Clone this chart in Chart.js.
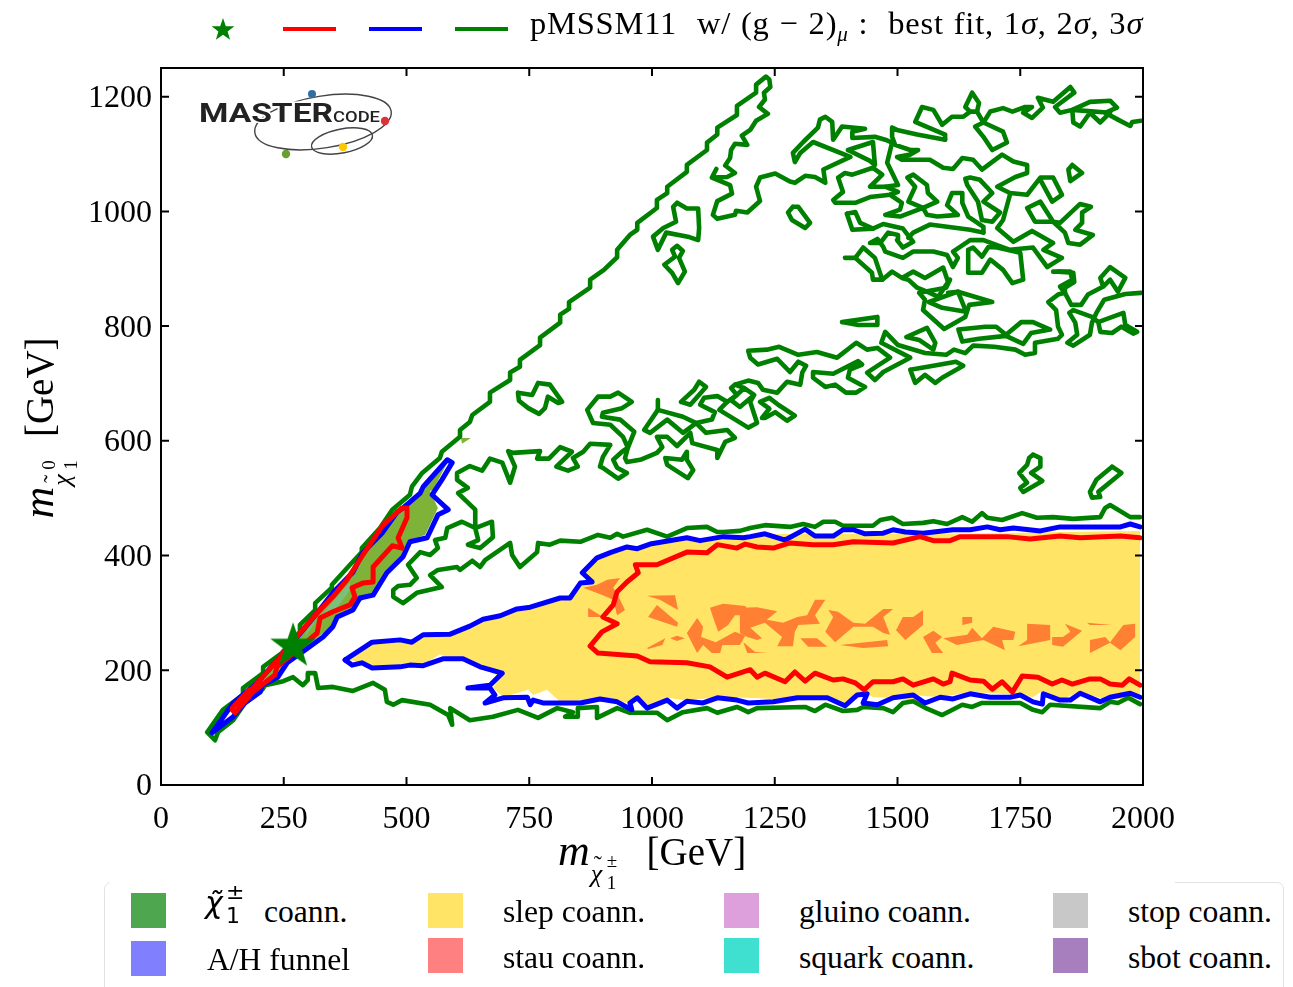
<!DOCTYPE html>
<html>
<head>
<meta charset="utf-8">
<title>pMSSM11 chargino neutralino plane</title>
<script src="https://cdn.jsdelivr.net/npm/chart.js@4/dist/chart.umd.min.js"></script>
<style>
html, body { margin: 0; padding: 0; background: #fff; overflow: hidden; }
#page { position: relative; width: 1293px; height: 987px; overflow: hidden; font-family: "Liberation Serif", serif; color: #000; }
#myChart { position: absolute; left: 0; top: 0; }
.abs { position: absolute; white-space: nowrap; }
.swatch { position: absolute; width: 35px; height: 35px; }
.leg { position: absolute; white-space: nowrap; font-size: 31.6px; line-height: 36px; }
.keyline { position: absolute; top: 27px; width: 53px; height: 4px; }
.stack { display: inline-block; position: relative; }
.stack span { position: absolute; left: 0; }
</style>
</head>
<body>
<div id="page">
  <canvas id="myChart" width="1293" height="987"></canvas>

  <svg class="abs" style="left:205px;top:12px" width="36" height="36" viewBox="-18 -18 36 36">
    <polygon fill="#008000" points="0,-12 2.8,-3.8 11.4,-3.7 4.6,1.4 7.1,9.7 0,4.8 -7.1,9.7 -4.6,1.4 -11.4,-3.7 -2.8,-3.8"/>
  </svg>
  <div class="keyline" style="left:283px;background:#ff0000"></div>
  <div class="keyline" style="left:369px;background:#0000ff"></div>
  <div class="keyline" style="left:455px;background:#008000"></div>
  <div class="abs" style="left:530px;top:5px;font-size:32.5px;line-height:36px;letter-spacing:0.8px;word-spacing:1px">pMSSM11&nbsp; w/ (g − 2)<i style="font-size:21px;position:relative;top:7px">μ</i> :&nbsp; best fit, 1<i>σ</i>, 2<i>σ</i>, 3<i>σ</i></div>

  <svg class="abs" style="left:190px;top:80px" width="210" height="85" viewBox="190 80 210 85">
    <ellipse cx="323" cy="122" rx="69" ry="26" fill="none" stroke="#444" stroke-width="1.4" transform="rotate(-9 323 122)"/>
    <ellipse cx="342" cy="141" rx="31" ry="12" fill="none" stroke="#444" stroke-width="1.4" transform="rotate(-11 342 141)"/>
    <text x="199" y="122" font-family="Roboto" font-weight="700" font-size="25" textLength="134" lengthAdjust="spacingAndGlyphs" fill="#222" stroke="#fff" stroke-width="3" paint-order="stroke">MASTER</text>
    <text x="333" y="122" font-family="Roboto" font-weight="500" font-size="14" textLength="47" lengthAdjust="spacingAndGlyphs" fill="#222">CODE</text>
    <circle cx="312" cy="94" r="4" fill="#2f6ea5"/>
    <circle cx="385" cy="121" r="4.2" fill="#d9343a"/>
    <circle cx="343" cy="147" r="4.2" fill="#fdc800"/>
    <circle cx="286" cy="154" r="4.2" fill="#6a9e33"/>
  </svg>

  <div class="abs" style="left:-111px;top:405px;width:300px;height:46px;line-height:46px;text-align:center;font-size:39px;transform:rotate(-90deg)"><i style="font-size:44px">m</i><span class="stack" style="width:40px;height:20px"><span style="top:14px;font-size:26px;line-height:30px;left:1px"><i>χ</i></span><span style="top:4px;font-size:24px;line-height:30px;left:4px">˜</span><span style="top:28px;font-size:19px;line-height:20px;left:17px">1</span><span style="top:6px;font-size:19px;line-height:20px;left:17px">0</span></span>&nbsp;[GeV]</div>

  <div class="abs" style="left:104px;top:882px;width:1180px;height:120px;box-sizing:border-box;border:1.5px solid #e2e2e2;border-radius:7px;background:#fff"></div>
  <div class="abs" style="left:110px;top:878px;width:1065px;height:10px;background:#fff"></div>

  <div class="abs" style="left:558px;top:828px;font-size:39px;line-height:46px"><i style="font-size:44px">m</i><span class="stack" style="width:47px;height:20px"><span style="top:14px;font-size:26px;line-height:30px;left:1px"><i>χ</i></span><span style="top:4px;font-size:24px;line-height:30px;left:4px">˜</span><span style="top:28px;font-size:19px;line-height:20px;left:17px">1</span><span style="top:6px;font-size:19px;line-height:20px;left:17px">±</span></span>&nbsp;[GeV]</div>

  <div class="swatch" style="left:131px;top:893px;background:#4ea64e"></div>
  <div class="swatch" style="left:131px;top:941px;background:#8080ff"></div>
  <div class="swatch" style="left:428px;top:893px;background:#ffe466"></div>
  <div class="swatch" style="left:428px;top:938px;background:#ff8080"></div>
  <div class="swatch" style="left:724px;top:893px;background:#dda0dd"></div>
  <div class="swatch" style="left:724px;top:938px;background:#40e0d0"></div>
  <div class="swatch" style="left:1053px;top:893px;background:#c8c8c8"></div>
  <div class="swatch" style="left:1053px;top:938px;background:#a77fbf"></div>

  <div class="leg" style="left:205px;top:894px"><span class="stack" style="width:59px;height:20px;vertical-align:baseline"><span style="top:-17px;font-family:'DejaVu Sans';font-style:italic;font-size:30px;line-height:36px">χ̃</span><span style="top:2px;left:21px;font-family:'DejaVu Sans';font-size:22px;line-height:24px">1</span><span style="top:-22px;left:21px;font-family:'DejaVu Sans';font-size:22px;line-height:24px">±</span></span>coann.</div>
  <div class="leg" style="left:207px;top:942px">A/H funnel</div>
  <div class="leg" style="left:503px;top:894px">slep coann.</div>
  <div class="leg" style="left:503px;top:940px">stau coann.</div>
  <div class="leg" style="left:799px;top:894px">gluino coann.</div>
  <div class="leg" style="left:799px;top:940px">squark coann.</div>
  <div class="leg" style="left:1128px;top:894px">stop coann.</div>
  <div class="leg" style="left:1128px;top:940px">sbot coann.</div>
</div>

<script>
var xTicks = [0, 250, 500, 750, 1000, 1250, 1500, 1750, 2000];
var yTicks = [0, 200, 400, 600, 800, 1000, 1200];
var bestFit = [269, 242];

// all regions and contours are flat lists: x, y, x, y ...
var slepRegion = [385,218, 430,248, 491,256, 511,251, 534,262, 589,265, 629,276, 656,288, 691,293, 731,309, 752,310, 813,326, 833,326, 854,352, 874,354, 860,370, 888,392, 915,405, 949,415, 970,412, 996,419, 1057,427, 1098,431, 1180,436, 1302,438, 1505,438, 1709,439, 1831,441, 1994,443, 1994,153, 1927,148, 1872,162, 1831,148, 1791,162, 1776,153, 1750,157, 1648,162, 1587,153, 1532,157, 1550,145, 1485,152, 1450,153, 1434,160, 1397,140, 1349,153, 1247,150, 1194,152, 1133,152, 1063,148, 1031,152, 990,134, 970,152, 955,143, 929,145, 888,148, 813,145, 786,166, 758,157, 748,166, 697,153, 676,169, 691,188, 636,213, 589,221, 568,228, 542,214, 487,206, 430,206, 409,213];

var stauRegions = [
  [860,344, 888,349, 909,358, 935,361, 921,344, 935,323, 945,305, 929,296, 921,323, 900,331],
  [870,309, 900,293, 870,293],
  [990,330, 1047,331, 1053,305, 1016,323],
  [1010,314, 1053,283, 1051,276, 992,293],
  [990,239, 1027,256, 1021,244, 992,237],
  [1037,256, 1051,260, 1067,256, 1051,251],
  [1118,309, 1145,316, 1190,312, 1200,296, 1169,296, 1155,279, 1135,267, 1126,288],
  [1071,265, 1092,291, 1104,276, 1100,258, 1130,249, 1169,267, 1190,260, 1179,244, 1143,244, 1139,230, 1122,230, 1104,244, 1092,230],
  [1179,309, 1214,310, 1255,303, 1234,288, 1267,283, 1296,293, 1316,296, 1332,323, 1353,323, 1332,296, 1342,281, 1298,279, 1291,267, 1287,242, 1255,242, 1265,258, 1230,283, 1200,274, 1224,256, 1214,253, 1194,258, 1179,265],
  [1359,305, 1379,302, 1410,283, 1434,281, 1471,307, 1491,307, 1471,293, 1485,262, 1471,265, 1450,276, 1410,276, 1373,249, 1353,267, 1369,293],
  [1302,256, 1336,256, 1357,241, 1318,241],
  [1383,244, 1479,253, 1481,242, 1430,239],
  [1511,293, 1532,293, 1552,305, 1552,279, 1516,253, 1497,270],
  [1632,293, 1652,293, 1652,283, 1632,279],
  [1552,258, 1573,269, 1591,258, 1577,248, 1593,230, 1570,230],
  [1593,256, 1642,262, 1652,274, 1672,256, 1695,276, 1740,267, 1736,253, 1713,253, 1719,235, 1675,253, 1621,244],
  [1764,281, 1811,279, 1811,253, 1746,242, 1764,253],
  [1841,281, 1876,269, 1837,241, 1815,244, 1815,258, 1837,258, 1852,267],
  [1886,283, 1937,279, 1892,279],
  [1892,253, 1923,258, 1933,249, 1960,279, 1984,281, 1984,258, 1954,235, 1933,248, 1892,230],
  [1186,249, 1210,232, 1236,230, 1194,230]
];

var charginoRegions = [
  [145,127, 196,180, 249,232, 318,302, 350,337, 391,373, 411,405, 450,439, 481,476, 507,497, 544,520, 564,483, 538,436, 507,427, 493,401, 460,371, 432,337, 391,309, 359,296, 344,274, 293,239, 238,192, 198,166, 171,145, 147,122],
  [538,523, 583,562, 554,514, 538,511],
  [611,605, 631,605, 613,595]
];
var mixedRegion = [297,270, 330,300, 359,328, 385,354, 385,340, 365,317, 350,302, 318,288, 293,258];

var redDiagonal = [145,131, 151,126, 187,162, 232,192, 236,206, 277,235, 318,265, 324,291, 350,302, 385,314, 395,328, 389,344, 411,352, 432,354, 432,380, 471,417, 491,413, 483,431, 501,466, 501,483, 491,483, 452,453, 411,401, 379,358, 350,328, 318,300, 283,265, 242,223, 187,169, 177,164, 145,134];
var redBand = [1994,431, 1954,434, 1872,431, 1831,434, 1770,429, 1723,433, 1628,433, 1607,426, 1573,426, 1546,433, 1491,422, 1410,424, 1369,419, 1328,419, 1281,422, 1247,413, 1214,415, 1190,420, 1173,413, 1133,419, 1112,405, 1071,406, 1010,384, 966,384, 972,370, 949,354, 929,337, 921,314, 900,293, 929,281, 898,267, 874,242, 890,230, 970,225, 996,215, 1071,213, 1118,206, 1153,188, 1200,201, 1214,188, 1230,195, 1271,180, 1291,197, 1312,181, 1332,195, 1369,183, 1389,185, 1414,178, 1432,166, 1450,180, 1491,180, 1511,185, 1532,174, 1573,185, 1593,176, 1607,180, 1611,195, 1648,183, 1675,181, 1693,167, 1713,180, 1734,162, 1754,190, 1786,188, 1815,176, 1835,183, 1856,176, 1892,185, 1913,185, 1933,176, 1958,174, 1972,185, 1994,174];

var blueDiagonal = [104,91, 147,119, 171,143, 202,162, 206,174, 238,188, 257,213, 293,235, 330,258, 350,276, 359,293, 391,305, 405,326, 432,331, 460,370, 493,398, 507,424, 542,431, 564,471, 585,480, 552,506, 572,532, 593,562, 583,567, 534,520, 528,509, 493,483, 481,476, 450,439, 411,405, 391,371, 350,335, 318,300, 289,270, 249,230, 196,178, 147,143, 104,91];
var blueBandTop = [375,218, 430,249, 487,253, 511,249, 534,262, 589,263, 629,277, 656,289, 691,295, 725,307, 752,310, 813,326, 833,326, 854,352, 878,354, 858,370, 888,396, 915,405, 949,415, 970,412, 996,420, 1071,431, 1098,426, 1145,433, 1186,431, 1200,433, 1230,438, 1271,427, 1312,446, 1332,434, 1369,434, 1389,445, 1410,445, 1434,438, 1471,439, 1491,445, 1516,441, 1552,439, 1613,445, 1648,445, 1683,450, 1709,445, 1736,448, 1791,443, 1831,450, 1954,450, 1974,455, 1994,450];
var blueBandBottom = [1994,153, 1974,160, 1933,153, 1913,145, 1872,160, 1852,148, 1831,148, 1797,159, 1795,141, 1776,145, 1750,157, 1729,153, 1689,153, 1648,159, 1613,150, 1587,153, 1556,143, 1532,157, 1491,152, 1459,140, 1430,143, 1438,159, 1418,157, 1393,138, 1357,152, 1296,152, 1247,145, 1196,143, 1173,148, 1133,152, 1104,143, 1071,146, 1051,134, 1031,148, 990,134, 970,152, 955,143, 959,131, 929,145, 894,150, 854,143, 778,143, 758,148, 752,140, 746,153, 697,152, 660,143, 680,157, 670,169, 625,169, 670,174, 695,195, 650,206, 615,220, 574,220, 534,208, 507,209, 487,206, 430,204, 409,213, 389,209, 375,218];

var greenLowerAndDiagonal = [1994,141, 1970,152, 1949,143, 1933,145, 1913,134, 1811,140, 1795,127, 1776,131, 1750,143, 1672,143, 1652,136, 1632,140, 1591,122, 1560,133, 1532,146, 1511,143, 1491,127, 1471,134, 1430,136, 1418,131, 1389,129, 1353,140, 1332,129, 1312,136, 1214,134, 1196,127, 1179,134, 1173,136, 1133,126, 1112,134, 1063,127, 1031,113, 1010,126, 955,126, 929,134, 888,117, 888,136, 849,134, 849,119, 823,119, 839,127, 807,134, 768,117, 727,131, 676,119, 629,113, 589,134, 593,105, 585,122, 548,140, 491,148, 473,140, 460,145, 456,166, 432,178, 391,164, 350,171, 320,169, 314,195, 299,195, 299,183, 289,174, 269,188, 249,181, 212,174, 206,166, 171,143, 147,113, 116,92, 110,78, 94,92, 126,131, 167,157, 167,169, 208,195, 208,206, 246,230, 283,267, 283,279, 314,305, 314,317, 348,344, 348,349, 385,384, 409,406, 409,413, 446,448, 471,480, 507,506, 511,520, 532,544, 568,570, 572,581, 609,607, 609,619, 629,633, 634,645, 670,668, 670,684, 711,706, 711,719, 731,729, 731,741, 772,767, 772,780, 813,806, 813,820, 831,830, 831,842, 874,867, 874,881, 902,898, 929,920, 929,933, 955,959, 970,968, 970,980, 1010,1006, 1010,1020, 1031,1032, 1031,1043, 1071,1069, 1071,1081, 1112,1107, 1112,1120, 1133,1134, 1133,1146, 1173,1168, 1173,1184, 1212,1207, 1212,1221, 1232,1235, 1239,1230, 1241,1217, 1228,1207, 1230,1195, 1218,1182, 1236,1170, 1212,1158, 1200,1142, 1183,1132, 1194,1116, 1169,1118, 1161,1107, 1159,1093, 1149,1080, 1169,1067, 1153,1060, 1122,1059, 1131,1074, 1122,1059, 1159,1046, 1163,1031, 1133,1018, 1124,994, 1133,987, 1169,994, 1171,1001, 1194,998, 1220,1018, 1212,1043, 1220,1059, 1251,1066, 1281,1052, 1291,1050, 1312,1062, 1332,1060, 1353,1050, 1349,1073, 1404,1095, 1328,1121, 1302,1102, 1291,1086, 1287,1102, 1308,1121, 1338,1146, 1342,1160, 1353,1165, 1367,1156, 1369,1125, 1387,1148, 1434,1144, 1408,1139, 1408,1128, 1454,1130, 1475,1125, 1489,1120, 1479,1085, 1501,1046, 1475,1043];

var greenUpperBand = [1994,467, 1974,467, 1933,488, 1923,483, 1913,467, 1858,464, 1817,467, 1784,466, 1754,474, 1713,462, 1683,466, 1672,474, 1652,459, 1632,467, 1601,455, 1573,460, 1552,457, 1511,455, 1489,466, 1465,462, 1450,452, 1389,452, 1373,459, 1349,459, 1332,450, 1308,455, 1281,450, 1230,453, 1200,448, 1179,443, 1145,441, 1133,441, 1112,450, 1071,448, 1031,433, 990,445, 941,433, 929,438, 915,431, 890,436, 854,424, 813,426, 792,419, 768,422, 766,406, 731,380, 715,401, 711,422, 660,392, 650,380, 634,391, 609,375, 603,380, 564,375, 548,366, 572,345, 521,335, 493,317, 473,328, 473,340, 483,347, 507,349, 521,361, 503,384, 528,406, 548,401, 564,413, 558,427, 579,431, 583,448, 613,459, 640,448, 646,427, 625,419, 650,413, 676,432, 674,459, 640,448, 640,480, 605,509, 625,518, 603,532, 603,544, 629,556, 654,548, 670,569, 695,562, 711,527, 721,555, 707,582, 717,579, 772,582, 766,569, 790,569, 813,589, 837,581, 805,555, 829,548, 849,555, 839,570, 860,581, 874,595, 915,593, 900,572, 894,555, 900,553, 931,534, 949,544, 929,553, 921,567, 939,581, 951,588, 941,607, 915,628, 880,631, 868,654, 890,677, 915,677, 931,684, 959,668, 939,657, 900,649, 898,642, 935,637, 964,616, 951,588, 945,570, 949,563, 976,567, 1010,579, 1021,589, 1010,607, 1031,607, 1051,591, 1078,614, 1082,596, 1133,584, 1133,570, 1149,598, 1169,605, 1153,619, 1110,614, 1090,631, 1063,642, 1012,654, 1012,671];

var greenWiggles = [
  [1012,654, 984,619, 996,614, 1031,637, 1063,614, 1090,631, 1122,637, 1128,650, 1098,663, 1106,675, 1133,678, 1153,668, 1137,654, 1196,623, 1214,631, 1200,668, 1208,680, 1188,692, 1161,671, 1179,659, 1208,680],
  [1188,692, 1169,698, 1196,705, 1216,701, 1226,689, 1255,684, 1275,703, 1302,698, 1306,719, 1314,731, 1298,738, 1281,720, 1255,743, 1216,733, 1200,745, 1196,757, 1234,759, 1259,764, 1298,750, 1336,755, 1377,745, 1416,771, 1438,759, 1459,762, 1485,745, 1438,719, 1454,706, 1471,720, 1526,745, 1467,771, 1475,790, 1501,767, 1556,753, 1599,750, 1615,759, 1638,753, 1654,766, 1697,764, 1740,759, 1760,750, 1780,753, 1780,771, 1827,778, 1835,785, 1827,799, 1823,828, 1807,842, 1827,855, 1841,858, 1841,867, 1860,877, 1858,893, 1827,895],
  [1169,698, 1161,692, 1173,680, 1153,668],
  [1059,668, 1086,689, 1096,703, 1110,694, 1078,663, 1059,668],
  [1220,668, 1239,675, 1257,663, 1291,644, 1275,635, 1251,650, 1230,640, 1224,640, 1239,656, 1220,668],
  [1328,720, 1369,717, 1420,739, 1428,733, 1403,724, 1399,710, 1434,694, 1416,684, 1395,684, 1373,698, 1353,694, 1328,710, 1328,720],
  [1526,724, 1573,731, 1619,738, 1634,731, 1591,710, 1577,701, 1556,715, 1536,701, 1526,724],
  [1387,807, 1459,816, 1459,802, 1420,802, 1387,807],
  [1518,781, 1560,797, 1577,771, 1573,759, 1544,776, 1518,781],
  [1624,794, 1679,799, 1701,799, 1721,785, 1752,807, 1776,807, 1811,794, 1772,788, 1756,769, 1721,783, 1666,778, 1632,773, 1624,794],
  [1776,576, 1791,570, 1791,555, 1772,544, 1795,530, 1756,511, 1750,518, 1764,527, 1748,544, 1764,558, 1768,570, 1776,576],
  [1937,555, 1956,544, 1909,511, 1913,502, 1896,501, 1892,511, 1905,532, 1937,555],
  [727,684, 756,680, 768,701, 792,698, 817,668, 809,666, 788,677, 782,657, 770,647, 748,657, 729,670, 727,684],
  [1027,570, 1031,558, 1073,535, 1084,549, 1071,567, 1071,581, 1061,567, 1027,570],
  [1051,1015, 1071,1005, 1094,1005, 1096,971, 1094,950, 1073,956, 1029,963, 1012,933, 1002,956, 1023,971, 1049,982, 1043,1008, 1051,1015],
  [1051,940, 1063,931, 1055,919, 1067,895, 1053,875, 1041,893, 1025,907, 1047,921, 1041,933, 1051,940],
  [1399,1107, 1450,1121, 1454,1081, 1444,1088, 1399,1107],
  [1379,1059, 1393,1067, 1408,1064, 1450,1076, 1469,1064, 1444,1043, 1475,1043, 1501,1034, 1485,1029, 1444,1025, 1414,1015, 1373,1015, 1369,1020, 1389,1034, 1379,1059],
  [1485,1029, 1509,1015, 1505,1003, 1475,994, 1505,991, 1552,1006, 1560,994, 1581,991, 1623,994, 1601,1011, 1611,1032, 1632,1032, 1632,1015, 1644,991, 1675,973, 1675,963],
  [1552,1006, 1581,1017, 1562,1032, 1560,1046, 1532,1064, 1520,1059, 1536,1043, 1522,1017, 1552,1006],
  [1597,1125, 1540,1134, 1499,1142, 1489,1146, 1489,1130, 1495,1116, 1526,1107, 1542,1107, 1526,1099, 1499,1095, 1509,1090, 1566,1090, 1593,1076, 1613,1074, 1632,1093, 1654,1090, 1672,1073, 1713,1099, 1736,1087, 1764,1081, 1764,1067, 1740,1060, 1703,1043, 1729,1032, 1764,1029, 1791,1059, 1817,1059, 1835,1029, 1815,1017, 1791,1055],
  [1597,1125, 1597,1134, 1536,1156, 1550,1182, 1573,1177, 1591,1151, 1611,1165, 1634,1165, 1648,1174, 1638,1182, 1652,1207, 1666,1189, 1662,1174, 1648,1174],
  [1662,1174, 1675,1155, 1658,1148, 1675,1130, 1693,1107, 1723,1120, 1715,1139, 1675,1155],
  [1675,1155, 1689,1174, 1715,1180, 1734,1174, 1760,1182, 1774,1182, 1756,1172, 1774,1163, 1796,1181, 1786,1198, 1817,1191, 1852,1217, 1860,1207, 1821,1182, 1831,1172, 1856,1177, 1892,1191, 1933,1193, 1947,1181, 1923,1172, 1949,1160, 1974,1149, 1978,1156, 1996,1158],
  [1856,1177, 1858,1155, 1872,1148, 1892,1172, 1913,1155, 1933,1172, 1856,1177],
  [1856,1081, 1876,1067, 1852,1053, 1848,1073, 1856,1081],
  [1287,1008, 1298,1008, 1322,980, 1312,971, 1285,985, 1277,998, 1287,1008],
  [1764,1006, 1791,1017, 1817,982, 1831,980, 1872,1013, 1894,1008, 1876,998, 1876,980, 1862,968, 1898,959, 1872,942, 1848,945, 1841,963, 1817,982, 1780,982, 1764,1006],
  [1397,996, 1414,999, 1424,980, 1450,970, 1471,978, 1511,970, 1532,947, 1511,937, 1499,950, 1501,959, 1481,963, 1465,945, 1444,945, 1459,952, 1471,938, 1475,930, 1511,919, 1532,930, 1573,930, 1601,924, 1613,903, 1623,919, 1613,930, 1648,950, 1675,950, 1729,933, 1776,937, 1805,903, 1835,919, 1797,933, 1817,945, 1774,966, 1736,947, 1703,971, 1715,985, 1729,1029],
  [1397,996, 1408,968, 1450,970],
  [1675,963, 1648,968, 1566,977, 1532,963, 1522,954],
  [1648,1059, 1668,1055, 1693,1032, 1675,1017, 1709,998, 1693,982, 1672,985, 1664,1017, 1642,1046, 1638,1057, 1648,1059],
  [1644,933, 1654,937, 1672,921, 1685,938, 1703,937, 1750,928, 1756,881, 1734,875, 1715,898, 1689,916, 1672,893, 1644,893, 1644,933],
  [1393,919, 1414,919, 1430,937, 1454,919, 1469,881, 1489,895, 1509,884, 1532,895, 1556,884, 1593,902, 1603,877, 1583,851, 1566,858, 1540,867, 1522,881, 1509,884],
  [1414,919, 1448,893, 1450,881, 1469,881],
  [1607,881, 1599,867, 1544,858, 1556,846, 1552,828, 1595,795, 1638,816, 1646,837, 1693,842, 1623,860, 1603,858],
  [1564,842, 1623,860, 1640,825, 1591,832, 1564,842],
  [1841,858, 1854,837, 1874,837, 1888,855, 1919,869, 1913,884, 1933,903, 1964,884, 1949,860, 1933,881, 1919,869],
  [1996,858, 1964,856, 1921,846, 1905,823, 1896,806, 1892,785, 1858,766, 1846,771, 1866,785, 1862,806, 1850,823, 1858,828, 1896,816, 1909,807, 1913,790, 1937,788, 1956,799, 1980,787, 1988,790, 1964,802, 1960,823, 1921,811, 1909,807],
  [1817,895, 1852,895, 1856,881, 1831,869, 1841,858]
];

function pts(list) {
  var out = [];
  for (var i = 0; i < list.length; i += 2) out.push({x: list[i], y: list[i + 1]});
  return out;
}
function lineSet(list, color, width) {
  return {data: pts(list), showLine: true, borderColor: color, borderWidth: width, borderJoinStyle: "round", borderCapStyle: "round", pointRadius: 0};
}
function areaSet(list, color) {
  return {data: pts(list), showLine: false, pointRadius: 0, areaColor: color};
}

// the filled star used as a point marker
var starMark = document.createElement("canvas");
starMark.width = 50;
starMark.height = 50;
(function () {
  var c = starMark.getContext("2d");
  c.fillStyle = "#008000";
  c.beginPath();
  for (var i = 0; i < 10; i++) {
    var r = i % 2 ? 9.4 : 24;
    var a = -Math.PI / 2 + i * Math.PI / 5;
    c.lineTo(25 + r * Math.cos(a), 25 + r * Math.sin(a));
  }
  c.closePath();
  c.fill();
})();

// first dataset is drawn on top
var sets = [];
sets.push({data: [{x: bestFit[0], y: bestFit[1]}], pointStyle: starMark, pointRadius: 24});
sets.push(lineSet(redDiagonal, "#ff0000", 5));
sets.push(lineSet(redBand, "#ff0000", 5));
sets.push(lineSet(blueDiagonal, "#0000ff", 5));
sets.push(lineSet(blueBandTop, "#0000ff", 5));
sets.push(lineSet(blueBandBottom, "#0000ff", 5));
sets.push(lineSet(greenLowerAndDiagonal, "#008000", 4.6));
sets.push(lineSet(greenUpperBand, "#008000", 4.6));
greenWiggles.forEach(function (w) { sets.push(lineSet(w, "#008000", 4.6)); });
sets.push(areaSet(mixedRegion, "#7dbf7d"));
charginoRegions.forEach(function (r) { sets.push(areaSet(r, "#7fb239")); });
stauRegions.forEach(function (r) { sets.push(areaSet(r, "#ff7f33")); });
sets.push(areaSet(slepRegion, "#ffe466"));

var regionFill = {
  id: "regionFill",
  beforeDatasetDraw: function (chart, args) {
    var ds = chart.data.datasets[args.index];
    if (!ds.areaColor) return;
    var ctx = chart.ctx;
    ctx.save();
    ctx.fillStyle = ds.areaColor;
    ctx.beginPath();
    args.meta.data.forEach(function (p, i) {
      if (i === 0) ctx.moveTo(p.x, p.y); else ctx.lineTo(p.x, p.y);
    });
    ctx.closePath();
    ctx.fill();
    ctx.restore();
  }
};

// frame and inward ticks on all four sides
var frameTicks = {
  id: "frameTicks",
  afterDraw: function (chart) {
    var ctx = chart.ctx, a = chart.chartArea;
    var sx = chart.scales.x, sy = chart.scales.y;
    ctx.save();
    ctx.strokeStyle = "#000";
    ctx.lineWidth = 2;
    ctx.beginPath();
    xTicks.forEach(function (v) {
      var p = sx.getPixelForValue(v);
      ctx.moveTo(p, a.bottom); ctx.lineTo(p, a.bottom - 8);
      ctx.moveTo(p, a.top); ctx.lineTo(p, a.top + 8);
    });
    yTicks.forEach(function (v) {
      var p = sy.getPixelForValue(v);
      ctx.moveTo(a.left, p); ctx.lineTo(a.left + 8, p);
      ctx.moveTo(a.right, p); ctx.lineTo(a.right - 8, p);
    });
    ctx.stroke();
    ctx.strokeRect(a.left, a.top, a.right - a.left, a.bottom - a.top);
    ctx.restore();
  }
};

function plainLabel(v) { return String(v); }

new Chart("myChart", {
  type: "scatter",
  data: {datasets: sets},
  plugins: [regionFill, frameTicks],
  options: {
    responsive: false,
    animation: false,
    events: [],
    layout: {padding: {top: 68, right: 150}},
    plugins: {legend: {display: false}, tooltip: {enabled: false}},
    scales: {
      x: {
        type: "linear",
        min: 0,
        max: 2000,
        afterFit: function (s) { s.height = 202; },
        grid: {display: false},
        border: {display: false},
        ticks: {stepSize: 250, includeBounds: false, maxRotation: 0, autoSkip: false, padding: 7, callback: plainLabel, color: "#000", font: {family: "Liberation Serif", size: 32}}
      },
      y: {
        type: "linear",
        min: 0,
        max: 1250,
        afterFit: function (s) { s.width = 161; },
        grid: {display: false},
        border: {display: false},
        ticks: {stepSize: 200, includeBounds: false, autoSkip: false, padding: 1, labelOffset: 2, callback: plainLabel, color: "#000", font: {family: "Liberation Serif", size: 32}}
      }
    }
  }
});
</script>
</body>
</html>
